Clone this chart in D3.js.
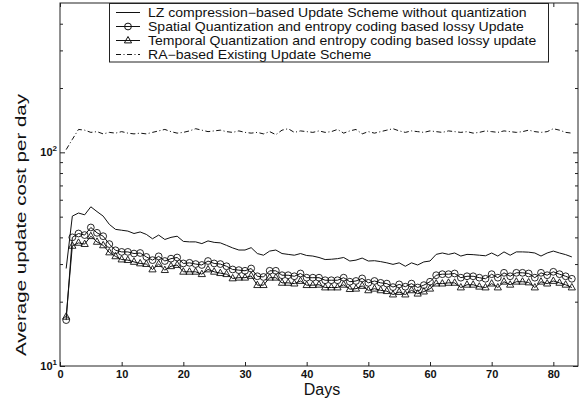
<!DOCTYPE html>
<html><head><meta charset="utf-8">
<script src="https://cdn.jsdelivr.net/npm/d3@7"></script>
<style>
html,body{margin:0;padding:0;background:#fff;}
svg{display:block;font-family:"Liberation Sans",Arial,Helvetica,sans-serif;}
</style></head>
<body><svg id="c" width="581" height="402"></svg>
<script>
const days = d3.range(1, 84);
const lzValues = [28.6,50.3,52,51,55.6,52.8,50.3,46,43.6,43.2,42.8,41.7,42.4,41.3,39.4,41,39.1,40,40.5,38.3,38.1,38.1,37.4,38.5,37.9,37.7,36.7,35.7,34.9,34.9,35.8,33.6,33.0,34.5,34.9,33.6,33.3,33.0,33.6,32.9,32.7,32.2,31.5,31.6,31.8,32.2,31.0,31.3,32.0,31.0,31.1,30.8,30.4,29.9,30.4,29.3,30.4,29.7,30.7,31.0,33.3,33.8,33.3,33.8,32.7,33.3,33.2,33.0,32.8,33.8,32.7,34.2,33.0,34.2,34.2,34.1,33.8,32.7,33.8,34.5,33.8,33.2,32.4];
const spatialValues = [16.4,40,41.7,41,44.5,42,40.5,37.2,34.8,34.2,34.2,33.6,33.8,32.4,31.3,32.6,31,31.8,32.2,30.2,30.4,30,29.7,31,30.2,30,29.3,28.3,28.1,27.9,28.6,26.3,26.1,27.9,27.9,26.6,26.6,26.3,27.1,25.9,25.9,25.9,25.2,25.2,25.2,25.9,24.8,25,25.7,24.5,25,24.5,24.3,23.4,24.1,23.5,24.3,23.3,23.9,24.8,26.6,26.9,26.9,27.1,25.9,26.3,26.3,25.9,25.6,26.9,25.9,27.3,26.3,27.3,27.3,27.1,25.9,27.3,26.6,27.6,26.9,26.3,25.6];
const temporalValues = [17,36.5,37.7,37.2,40.5,38.1,36.7,34,32.6,31.5,31.3,30.7,30.2,30,28.3,30,28.1,29.3,29.7,27.6,27.6,27.6,26.9,28.3,27.6,27.2,26.9,25.7,25.9,25.9,26.4,23.9,23.9,25.9,25.9,24.5,24.5,24.3,25,23.9,23.9,24,23.3,23.3,23.3,24,22.9,23,23.7,22.6,23,22.6,22.4,21.6,22.2,21.6,22.6,21.8,22.3,23,24.3,24.3,24.5,24.5,23.3,24,24,23.5,23.3,24.3,23.3,24.8,24,24.8,24.8,24.6,23.3,24.8,24.3,25,24.5,24,23.3];
const raValues = [103,115,128,127,124,125,122,124,123,125,123,122,123,122,124,126,128,125,123,124,126,129,127,125,126,127,125,124,126,124,123,124,122,125,121,127,129,124,126,125,124,126,124,125,128,123,126,128,122,125,123,125,127,129,126,124,126,125,124,126,125,124,126,125,124,125,123,124,126,125,124,126,125,124,125,127,125,124,125,129,127,124,123];
const seriesNames = ["LZ compression\u2212based Update Scheme without quantization",
  "Spatial Quantization and entropy coding based lossy Update",
  "Temporal Quantization and entropy coding based lossy update",
  "RA\u2212based Existing Update Scheme"];
const xTicks = [0,10,20,30,40,50,60,70,80];
const yMajorTicks = [10,100];
const yMinorTicks = [20,30,40,50,60,70,80,90,200,300,400];
const xLabel = "Days";
const yLabel = "Average update cost per day";

const svg = d3.select("#c");
const L = 60, R = 578, T = 3, B = 366;
const x = d3.scaleLinear().domain([0, 84]).range([L, R]);
const y = d3.scaleLog().domain([10, 500]).range([B, T]);
const axisColor = "#222";

// frame
svg.append("rect").attr("x", L).attr("y", T).attr("width", R - L).attr("height", B - T)
  .attr("fill", "none").attr("stroke", axisColor).attr("stroke-width", 1);

// x ticks (inward, bottom and top)
const xAxisB = d3.axisBottom(x).tickValues(xTicks).tickSizeInner(-4).tickSizeOuter(0).tickPadding(4);
const gx = svg.append("g").attr("transform", `translate(0,${B})`).call(xAxisB);
gx.select(".domain").remove();
gx.selectAll("line").attr("stroke", axisColor);
gx.selectAll("text").attr("font-size", 11).attr("font-weight", "bold").attr("fill", "#111");
const gxT = svg.append("g").attr("transform", `translate(0,${T})`)
  .call(d3.axisTop(x).tickValues(xTicks).tickSizeInner(-4).tickSizeOuter(0).tickFormat(""));
gxT.select(".domain").remove();
gxT.selectAll("line").attr("stroke", axisColor);

// y ticks
function yTicks(vals, size, side) {
  const ax = side === "left" ? d3.axisLeft(y) : d3.axisRight(y);
  const g = svg.append("g").attr("transform", `translate(${side === "left" ? L : R},0)`)
    .call(ax.tickValues(vals).tickSizeInner(-size).tickSizeOuter(0).tickFormat(""));
  g.select(".domain").remove();
  g.selectAll("line").attr("stroke", axisColor);
}
yTicks(yMajorTicks, 5, "left"); yTicks(yMinorTicks, 3, "left");
yTicks(yMajorTicks, 5, "right"); yTicks(yMinorTicks, 3, "right");

// y tick labels 10^n
yMajorTicks.forEach(v => {
  const t = svg.append("text").attr("x", L - 3).attr("y", y(v) + 4)
    .attr("text-anchor", "end").attr("font-size", 11).attr("font-weight", "bold").attr("fill", "#111");
  t.append("tspan").text("10");
  t.append("tspan").attr("font-size", 8).attr("dy", -5).text(String(Math.round(Math.log10(v))));
});

// axis labels
svg.append("text").attr("x", (L + R) / 2 + 3).attr("y", 395).attr("text-anchor", "middle")
  .attr("font-size", 16).attr("fill", "#111").text(xLabel);
svg.append("text").attr("transform", `translate(26,225) rotate(-90)`)
  .attr("text-anchor", "middle").attr("font-size", 14.5).attr("fill", "#111")
  .attr("textLength", 262).attr("lengthAdjust", "spacingAndGlyphs").text(yLabel);

// lines
const line = vals => d3.line().x((d, i) => x(days[i])).y(d => y(d))(vals);
const g = svg.append("g");
g.append("path").attr("d", line(lzValues)).attr("fill", "none").attr("stroke", "#111").attr("stroke-width", 1);
g.append("path").attr("d", line(raValues)).attr("fill", "none").attr("stroke", "#111").attr("stroke-width", 1)
  .attr("stroke-dasharray", "5,2.5,1,2.5");
g.append("path").attr("d", line(spatialValues)).attr("fill", "none").attr("stroke", "#111").attr("stroke-width", 1);
g.append("path").attr("d", line(temporalValues)).attr("fill", "none").attr("stroke", "#111").attr("stroke-width", 1);

const triPath = "M0,-4L3.6,2.4L-3.6,2.4Z";
g.selectAll(".circ").data(spatialValues).join("circle")
  .attr("cx", (d, i) => x(days[i])).attr("cy", d => y(d)).attr("r", 3.4)
  .attr("fill", "none").attr("stroke", "#111").attr("stroke-width", 0.9);
g.selectAll(".tri").data(temporalValues).join("path")
  .attr("transform", (d, i) => `translate(${x(days[i])},${y(d)})`).attr("d", triPath)
  .attr("fill", "none").attr("stroke", "#111").attr("stroke-width", 0.9);

// legend
const lg = svg.append("g");
lg.append("rect").attr("x", 109.5).attr("y", 3.5).attr("width", 439).attr("height", 58.5)
  .attr("fill", "#fff").attr("stroke", axisColor).attr("stroke-width", 1);
const rows = [12.5, 26.5, 40.5, 54.5];
seriesNames.forEach((name, i) => {
  const yy = rows[i];
  const ln = lg.append("line").attr("x1", 116).attr("x2", 140).attr("y1", yy).attr("y2", yy)
    .attr("stroke", "#111").attr("stroke-width", 1);
  if (i === 3) ln.attr("stroke-dasharray", "5,2.5,1,2.5");
  if (i === 1) lg.append("circle").attr("cx", 128).attr("cy", yy).attr("r", 3.4).attr("fill", "none").attr("stroke", "#111");
  if (i === 2) lg.append("path").attr("transform", `translate(128,${yy})`).attr("d", triPath).attr("fill", "none").attr("stroke", "#111");
  lg.append("text").attr("transform", `translate(148,${yy + 4.3}) scale(1.17,1)`)
    .attr("font-size", 12).attr("fill", "#111").text(name);
});
</script></body></html>
